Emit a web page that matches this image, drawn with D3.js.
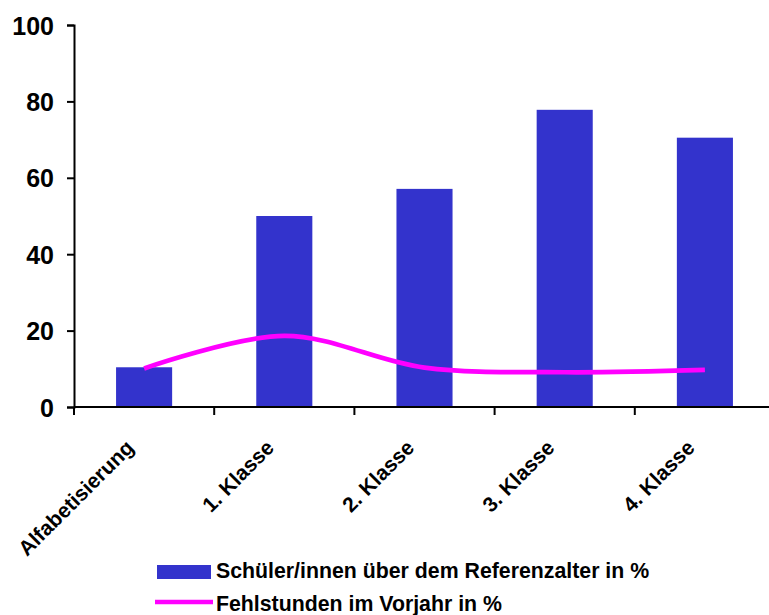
<!DOCTYPE html>
<meta charset="utf-8" />
<title>Schüler/innen über dem Referenzalter</title>
<style>
  body { margin: 0; background: #fff; }
  text { font-family: "Liberation Sans", Arial, sans-serif; font-weight: bold; fill: #000; }
  .axis path, .axis line { stroke: #000; stroke-width: 2px; }
</style>
<body>
<svg width="769" height="615"></svg>
<script src="https://d3js.org/d3.v7.min.js"></script>
<script>
const categories = ["Alfabetisierung", "1. Klasse", "2. Klasse", "3. Klasse", "4. Klasse"];
const ueberAlter = [10.4, 50, 57.1, 77.8, 70.5];
const fehlstunden = [10.1, 18.6, 10.3, 9.1, 9.7];
const yTicks = [0, 20, 40, 60, 80, 100];
const legendLabels = ["Schüler/innen über dem Referenzalter in %", "Fehlstunden im Vorjahr in %"];

const svg = d3.select("svg");
const mLeft = 74, mRight = 775, mTop = 25, mBottom = 407;

const x = d3.scaleBand().domain(categories).range([mLeft, mRight]);
const y = d3.scaleLinear().domain([0, 100]).range([mBottom, mTop]);

// bars
svg.append("g").selectAll("rect")
  .data(categories).join("rect")
  .attr("x", d => x(d) + x.bandwidth() * 0.3)
  .attr("width", x.bandwidth() * 0.4)
  .attr("y", (d, i) => y(ueberAlter[i]))
  .attr("height", (d, i) => mBottom - y(ueberAlter[i]))
  .attr("fill", "#3333cc");

// y axis
const yAxis = svg.append("g").attr("class", "axis")
  .attr("transform", `translate(${mLeft},0)`)
  .call(d3.axisLeft(y).tickValues(yTicks).tickSize(7).tickSizeOuter(7));
yAxis.selectAll("text").attr("font-size", 25).attr("x", -20).attr("dy", "0.36em");

// x axis
const xAxis = svg.append("g").attr("class", "axis")
  .attr("transform", `translate(0,${mBottom})`)
  .call(d3.axisBottom(x).tickSizeOuter(0).tickSize(0));
xAxis.select(".domain").attr("d", `M${mLeft},0H${mRight}`);
xAxis.selectAll(".tick").remove();
xAxis.selectAll("line.sep")
  .data(categories).join("line")
  .attr("class", "sep")
  .attr("x1", d => x(d)).attr("x2", d => x(d))
  .attr("y1", 0).attr("y2", 8);

svg.append("g").selectAll("text")
  .data(categories).join("text")
  .attr("transform", d => `translate(${x(d) + x.bandwidth() / 2 - 9},${mBottom + 42}) rotate(-45)`)
  .attr("text-anchor", "end")
  .attr("font-size", 21)
  .text(d => d);

// line
const line = d3.line()
  .x((d, i) => x(categories[i]) + x.bandwidth() / 2)
  .y(d => y(d))
  .curve(d3.curveCatmullRom);
svg.append("path")
  .datum(fehlstunden)
  .attr("d", line)
  .attr("fill", "none")
  .attr("stroke", "#ff00ff")
  .attr("stroke-width", 4.7);

// legend
const lg = svg.append("g");
lg.append("rect").attr("x", 157).attr("y", 565).attr("width", 54).attr("height", 14).attr("fill", "#3333cc");
lg.append("line").attr("x1", 155).attr("x2", 213).attr("y1", 602).attr("y2", 602)
  .attr("stroke", "#ff00ff").attr("stroke-width", 4.7);
lg.selectAll("text.lab")
  .data(legendLabels).join("text")
  .attr("class", "lab")
  .attr("x", 216)
  .attr("y", (d, i) => 578 + i * 33)
  .attr("font-size", 21.3)
  .text(d => d);
</script>
</body>
